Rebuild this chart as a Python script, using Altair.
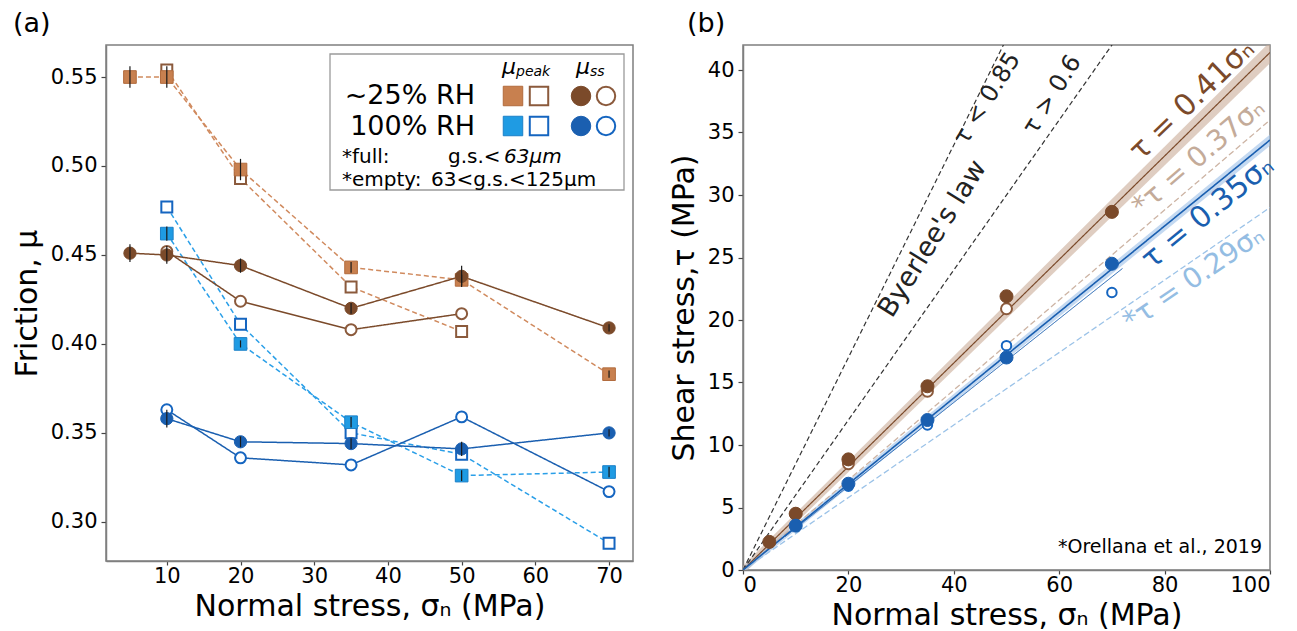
import altair as alt
import pandas as pd

FONT = "DejaVu Sans"

# ---------------- panel (a) data: friction vs normal stress ----------------
sig_25 = [5, 10, 20, 35, 50, 70]
peak_25_full = [0.550, 0.550, 0.498, 0.443, 0.436, 0.383]
peak_25_full_err = [0.006, 0.006, 0.006, 0.003, 0.003, 0.002]
ss_25_full = [0.451, 0.450, 0.444, 0.420, 0.438, 0.409]
ss_25_full_err = [0.005, 0.005, 0.004, 0.003, 0.006, 0.002]

sig_25_empty = [10, 20, 35, 50]
peak_25_empty = [0.554, 0.493, 0.432, 0.407]
ss_25_empty = [0.452, 0.424, 0.408, 0.417]

sig_100 = [10, 20, 35, 50, 70]
peak_100_full = [0.462, 0.400, 0.356, 0.326, 0.328]
peak_100_full_err = [0.004, 0.002, 0.003, 0.003, 0.003]
ss_100_full = [0.358, 0.345, 0.344, 0.341, 0.350]
ss_100_full_err = [0.005, 0.003, 0.003, 0.004, 0.002]
peak_100_empty = [0.477, 0.411, 0.350, 0.338, 0.288]
ss_100_empty = [0.363, 0.336, 0.332, 0.359, 0.317]

xticks_a = [10, 20, 30, 40, 50, 60, 70]
yticks_a = [0.30, 0.35, 0.40, 0.45, 0.50, 0.55]

# ---------------- panel (b) data: shear stress vs normal stress ----------------
tau_25_full = [2.25, 4.5, 8.85, 14.7, 21.9, 28.65]
tau_25_empty = [4.5, 8.5, 14.3, 20.9]
tau_100_full = [3.55, 6.9, 12.0, 17.0, 24.5]
tau_100_empty = [3.6, 6.7, 11.6, 17.95, 22.2]

fit_range = [0, 100]
slope_25 = 0.414
slope_100 = 0.344
slope_100_empty = 0.335
range_100_empty = [8, 72]
slope_orellana_25 = 0.36
slope_orellana_100 = 0.29
slope_byerlee = [0.85, 0.6]

xticks_b = [0, 20, 40, 60, 80, 100]
yticks_b = [0, 5, 10, 15, 20, 25, 30, 35, 40]

# ---------------- colours ----------------
C_OR = "#c8804f"
C_OR_EDGE = "#b26b3d"
C_OR_LINE = "#d08a5e"
C_BR = "#7b4a2a"
C_BR_OPEN = "#8b5a3c"
C_LB = "#1f9be3"
C_LB_EDGE = "#1b80c8"
C_LB_LINE = "#2a9fe8"
C_DB = "#1a5fb0"
C_DB_OPEN = "#1565c0"

WA, HA = 527, 516
WB, HB = 527, 525

one = pd.DataFrame({"k": [0]})

xa_scale = alt.Scale(domain=[1.75, 73.25], nice=False, zero=False)
ya_scale = alt.Scale(domain=[0.278, 0.568], nice=False, zero=False)
xa = alt.X("s:Q", scale=xa_scale,
           axis=alt.Axis(values=xticks_a, title="Normal stress, σₙ (MPa)"))
ya = alt.Y("mu:Q", scale=ya_scale,
           axis=alt.Axis(values=yticks_a, format=".2f", title="Friction, μ"))


def frame(s, v, err=None):
    d = pd.DataFrame({"s": s, "mu": v})
    if err is not None:
        d["lo"] = d["mu"] - pd.Series(err)
        d["hi"] = d["mu"] + pd.Series(err)
    return d


def line(d, color, dash):
    m = alt.Chart(d).mark_line(color=color, strokeWidth=1.5, strokeDash=dash)
    return m.encode(x=xa, y=ya)


def pts(d, shape, fill, stroke, size, sw):
    return alt.Chart(d).mark_point(shape=shape, filled=True, fill=fill, stroke=stroke,
                                   strokeWidth=sw, size=size, opacity=1).encode(x=xa, y=ya)


def errb(d):
    return alt.Chart(d).mark_rule(color="#1a1a1a", strokeWidth=1.2).encode(
        x=xa, y=alt.Y("lo:Q", scale=ya_scale), y2="hi:Q")


d_p25f = frame(sig_25, peak_25_full, peak_25_full_err)
d_s25f = frame(sig_25, ss_25_full, ss_25_full_err)
d_p25e = frame(sig_25_empty, peak_25_empty)
d_s25e = frame(sig_25_empty, ss_25_empty)
d_p100f = frame(sig_100, peak_100_full, peak_100_full_err)
d_s100f = frame(sig_100, ss_100_full, ss_100_full_err)
d_p100e = frame(sig_100, peak_100_empty)
d_s100e = frame(sig_100, ss_100_empty)

DASH = [5, 3]
layers_a = [
    line(d_p25f, C_OR_LINE, DASH), line(d_p25e, C_OR_LINE, DASH),
    line(d_p100f, C_LB_LINE, DASH), line(d_p100e, C_LB_LINE, DASH),
    line(d_s25f, C_BR, [1, 0]), line(d_s25e, C_BR, [1, 0]),
    line(d_s100f, C_DB, [1, 0]), line(d_s100e, C_DB, [1, 0]),
    pts(d_p25e, "square", "white", C_BR_OPEN, 120, 2),
    pts(d_s25e, "circle", "white", C_BR_OPEN, 120, 2),
    pts(d_p100e, "square", "white", C_DB_OPEN, 120, 2),
    pts(d_s100e, "circle", "white", C_DB_OPEN, 120, 2),
    pts(d_p25f, "square", C_OR, C_OR_EDGE, 160, 1),
    pts(d_s25f, "circle", C_BR, C_BR, 150, 1),
    pts(d_p100f, "square", C_LB, C_LB_EDGE, 160, 1),
    pts(d_s100f, "circle", C_DB, C_DB, 150, 1),
    errb(d_p25f), errb(d_s25f), errb(d_p100f), errb(d_s100f),
]


# ---------- helpers for decoration texts / legend symbols ----------
def vtext(txt, x, y, size, align="left", style="normal", color="black"):
    return alt.Chart(one).mark_text(text=txt, align=align, baseline="middle", fontSize=size,
                                    fontStyle=style, color=color, font=FONT).encode(
        x=alt.value(x), y=alt.value(y))


def vsym(shape, x, y, fill, stroke, size, sw):
    return alt.Chart(one).mark_point(shape=shape, filled=True, fill=fill, stroke=stroke,
                                     strokeWidth=sw, size=size, opacity=1).encode(
        x=alt.value(x), y=alt.value(y))


legend = [
    alt.Chart(one).mark_rect(fill="white", stroke="#9a9a9a", strokeWidth=1.3).encode(
        x=alt.value(224), x2=alt.value(518), y=alt.value(9), y2=alt.value(145)),
    vtext("μ", 403, 22, 22, "center", "italic"),
    vtext("peak", 410, 27, 14, "left", "italic"),
    vtext("μ", 477, 22, 22, "center", "italic"),
    vtext("ss", 484, 27, 14, "left", "italic"),
    vtext("~25% RH", 369, 51, 27, "right"),
    vtext("100% RH", 369, 82, 27, "right"),
    vsym("square", 407, 51, C_OR, C_OR_EDGE, 380, 1),
    vsym("square", 433, 51, "white", C_BR_OPEN, 340, 2),
    vsym("circle", 475, 51, C_BR, C_BR, 380, 1),
    vsym("circle", 500, 51, "white", C_BR_OPEN, 340, 2),
    vsym("square", 407, 81, C_LB, C_LB_EDGE, 380, 1),
    vsym("square", 433, 81, "white", C_DB_OPEN, 340, 2),
    vsym("circle", 475, 81, C_DB, C_DB, 380, 1),
    vsym("circle", 500, 81, "white", C_DB_OPEN, 340, 2),
    vtext("*full:", 236, 112, 20),
    vtext("g.s.<", 342, 112, 20),
    vtext("63μm", 398, 112, 20, "left", "italic"),
    vtext("*empty:", 236, 135, 20),
    vtext("63<g.s.<125μm", 325, 135, 20),
]

panel_a = alt.layer(*layers_a, *legend, vtext("(a)", -93, -21, 27)).properties(
    width=WA, height=HA)

# ---------------- panel (b) ----------------
xb_scale = alt.Scale(domain=[0, 100], nice=False)
yb_scale = alt.Scale(domain=[0, 42], nice=False)
xb = alt.X("s:Q", scale=xb_scale,
           axis=alt.Axis(values=xticks_b, title="Normal stress, σₙ (MPa)"))
yb = alt.Y("t:Q", scale=yb_scale,
           axis=alt.Axis(values=yticks_b, title="Shear stress,τ (MPa)"))


def bpts(s, t, fill, stroke, size, sw):
    d = pd.DataFrame({"s": s, "t": t})
    return alt.Chart(d).mark_point(shape="circle", filled=True, fill=fill, stroke=stroke,
                                   strokeWidth=sw, size=size, opacity=1).encode(x=xb, y=yb)


def fitline(k, rng, color, width, dash):
    d = pd.DataFrame({"s": rng, "t": [k * v for v in rng]})
    return alt.Chart(d).mark_line(color=color, strokeWidth=width, strokeDash=dash,
                                  clip=True).encode(x=xb, y=yb)


def band(k, dk0, dk, color, op):
    d = pd.DataFrame({"s": fit_range})
    d["lo"] = [k * v - dk0 - dk * v for v in fit_range]
    d["hi"] = [k * v + dk0 + dk * v for v in fit_range]
    return alt.Chart(d).mark_area(color=color, opacity=op, clip=True).encode(
        x=xb, y=alt.Y("lo:Q", scale=yb_scale), y2="hi:Q")


def dtext(txt, x, y, angle, color, size, align="center"):
    return alt.Chart(one).mark_text(text=txt, angle=angle, color=color, fontSize=size,
                                    align=align, baseline="middle", font=FONT).encode(
        x=alt.datum(x), y=alt.datum(y))


layers_b = [
    band(slope_25, 0.35, 0.005, "#c9ab98", 0.6),
    band(slope_100, 0.25, 0.002, "#9cc0e8", 0.6),
    fitline(slope_byerlee[0], fit_range, "#333333", 1.2, [5, 3]),
    fitline(slope_byerlee[1], fit_range, "#333333", 1.2, [5, 3]),
    fitline(slope_orellana_25, fit_range, "#cdb4a4", 1.3, [6, 3]),
    fitline(slope_orellana_100, fit_range, "#9cc3e8", 1.3, [6, 3]),
    fitline(slope_25, fit_range, C_BR, 1.2, [1, 0]),
    fitline(slope_100, fit_range, C_DB, 1.6, [1, 0]),
    fitline(slope_100_empty, range_100_empty, C_DB, 1.0, [1, 0]),
    bpts(sig_25_empty, tau_25_empty, "white", C_BR_OPEN, 120, 2),
    bpts(sig_100, tau_100_empty, "white", C_DB_OPEN, 90, 2),
    bpts(sig_25, tau_25_full, C_BR, C_BR, 170, 1),
    bpts(sig_100, tau_100_full, C_DB, C_DB, 170, 1),
    dtext("τ = 0.41σₙ", 85.2, 37.6, 316, C_BR, 30),
    dtext("*τ = 0.37σₙ", 86.5, 33.0, 319.5, "#c4ab99", 28),
    dtext("τ = 0.35σₙ", 88.2, 28.6, 320.7, C_DB, 30),
    dtext("*τ = 0.29σₙ", 85.6, 23.3, 325.5, "#94bde3", 28),
    dtext("Byerlee's law", 36.0, 26.5, 302, "#222222", 27),
    dtext("τ < 0.85", 46.4, 37.7, 302, "#222222", 24),
    dtext("τ > 0.6", 58.7, 38.0, 302, "#222222", 24),
    vtext("*Orellana et al., 2019", WB - 8, HB - 23, 19, "right"),
    vtext("(b)", -56, -21, 27),
]

panel_b = alt.layer(*layers_b).properties(width=WB, height=HB)

chart = alt.hconcat(panel_a, panel_b, spacing=110, bounds="flush").configure(
    font=FONT, padding={"left": 3, "top": 1, "right": 0, "bottom": 0}
).configure_axis(
    grid=False, labelFont=FONT, titleFont=FONT, labelFontSize=21, titleFontSize=30,
    labelColor="black", titleColor="black", titleFontWeight="normal",
    tickSize=5, tickColor="#444444", tickWidth=1.2, domainColor="#7f7f7f", domainWidth=1.5
).configure_axisX(titlePadding=5, labelPadding=0, tickSize=4).configure_axisY(
    titlePadding=8, labelPadding=4).configure_view(stroke="#7f7f7f", strokeWidth=1.5)

chart.save("out.html", embed_options={"renderer": "svg", "actions": False})
